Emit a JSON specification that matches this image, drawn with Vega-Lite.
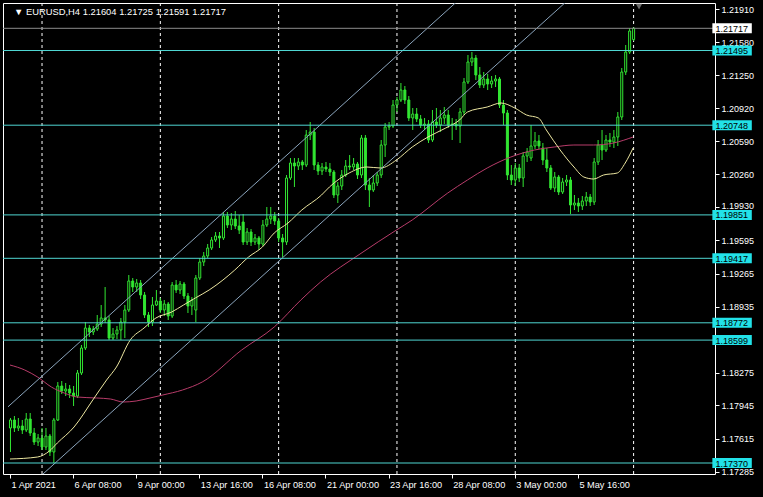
{
  "$schema": "https://vega.github.io/schema/vega-lite/v6.json",
  "width": 712,
  "height": 471,
  "autosize": {"type": "none"},
  "padding": {"left": 3, "top": 3, "right": 48, "bottom": 23},
  "background": "#000000",
  "config": {
    "view": {"stroke": "#ffffff", "strokeWidth": 1},
    "axis": {"labelFont": "Liberation Sans", "labelFontSize": 9, "labelColor": "#ffffff", "tickColor": "#ffffff", "domain": false, "grid": false, "zindex": 0},
    "axisX": {"orient": "bottom", "labelAlign": "left", "labelBaseline": "top", "labelPadding": 2, "labelOffset": 1, "tickSize": 4, "labelOverlap": false, "labelFlush": false, "labelFontSize": 9.2},
    "axisY": {"orient": "right", "tickSize": 4, "labelPadding": 2, "labelOverlap": false, "labelFlush": false, "labelBaseline": "middle", "labelAlign": "left",
      "labelOffset": {"condition": {"test": "abs(datum.value - 1.1993) < 0.00001", "value": -1.5}, "value": 0}},
    "text": {"font": "Liberation Sans"}
  },
  "datasets": {
    "grid": [{"i": 8}, {"i": 38}, {"i": 68}, {"i": 98}, {"i": 128}, {"i": 158}],
    "levels": [{"level": 1.21495}, {"level": 1.20748}, {"level": 1.19851}, {"level": 1.19417}, {"level": 1.18772}, {"level": 1.18599}, {"level": 1.1737}],
    "bid": [{"level": 1.21717}],
    "channel": [
      {"ch": "upper", "i": -0.5, "p": 1.17932}, {"ch": "upper", "i": 177.5, "p": 1.24269},
      {"ch": "lower", "i": -0.5, "p": 1.16944}, {"ch": "lower", "i": 177.5, "p": 1.23281}
    ],
    "maFast": [
      {"i": 0, "p": 1.1741}, {"i": 7, "p": 1.1743}, {"i": 10, "p": 1.1749}, {"i": 12, "p": 1.1757}, {"i": 16.25, "p": 1.1773},
      {"i": 21, "p": 1.18}, {"i": 24.5, "p": 1.182}, {"i": 27, "p": 1.1833}, {"i": 30.5, "p": 1.186}, {"i": 34, "p": 1.1872},
      {"i": 37, "p": 1.1882}, {"i": 41, "p": 1.1888}, {"i": 44, "p": 1.1895}, {"i": 47, "p": 1.1902}, {"i": 50.5, "p": 1.191},
      {"i": 54, "p": 1.192}, {"i": 57, "p": 1.193}, {"i": 60.5, "p": 1.1943}, {"i": 64, "p": 1.1953}, {"i": 67, "p": 1.1967},
      {"i": 70.5, "p": 1.1977}, {"i": 74, "p": 1.199}, {"i": 79, "p": 1.2005}, {"i": 81, "p": 1.2013}, {"i": 86, "p": 1.2027},
      {"i": 90.5, "p": 1.2033}, {"i": 94, "p": 1.2032}, {"i": 98, "p": 1.204}, {"i": 102, "p": 1.2053}, {"i": 106, "p": 1.2063},
      {"i": 110.5, "p": 1.2072}, {"i": 114, "p": 1.208}, {"i": 116, "p": 1.2088}, {"i": 121, "p": 1.2093}, {"i": 124.5, "p": 1.2097},
      {"i": 128, "p": 1.2092}, {"i": 131, "p": 1.2085}, {"i": 134, "p": 1.2082}, {"i": 136, "p": 1.207}, {"i": 139.5, "p": 1.205},
      {"i": 143, "p": 1.2033}, {"i": 145.5, "p": 1.2023}, {"i": 148, "p": 1.2021}, {"i": 150.5, "p": 1.2025}, {"i": 154, "p": 1.2027},
      {"i": 156, "p": 1.2037}, {"i": 158, "p": 1.2052}
    ],
    "maSlow": [
      {"i": 0, "p": 1.1835}, {"i": 3.75, "p": 1.183}, {"i": 7, "p": 1.1823}, {"i": 10.5, "p": 1.1813}, {"i": 13.75, "p": 1.1807},
      {"i": 17, "p": 1.1803}, {"i": 22, "p": 1.1802}, {"i": 25.5, "p": 1.1801}, {"i": 28.75, "p": 1.1798}, {"i": 32, "p": 1.1799},
      {"i": 35.5, "p": 1.1802}, {"i": 38.75, "p": 1.1805}, {"i": 43.75, "p": 1.181}, {"i": 48.75, "p": 1.1818}, {"i": 58.75, "p": 1.185},
      {"i": 67, "p": 1.1873}, {"i": 73.75, "p": 1.19}, {"i": 78.75, "p": 1.1918}, {"i": 88.75, "p": 1.1946}, {"i": 98, "p": 1.197},
      {"i": 102, "p": 1.198}, {"i": 111, "p": 1.2007}, {"i": 116, "p": 1.202}, {"i": 121, "p": 1.2032}, {"i": 127, "p": 1.2043},
      {"i": 133, "p": 1.205}, {"i": 138, "p": 1.2053}, {"i": 143, "p": 1.2055}, {"i": 148, "p": 1.2055}, {"i": 153, "p": 1.2057},
      {"i": 158, "p": 1.2063}
    ],
    "candles": [
      {"i":0,"o":1.1772,"h":1.1782,"l":1.1748,"c":1.1780},
      {"i":1,"o":1.1780,"h":1.1784,"l":1.1768,"c":1.1772},
      {"i":2,"o":1.1772,"h":1.1782,"l":1.1769,"c":1.1774},
      {"i":3,"o":1.1774,"h":1.1780,"l":1.1766,"c":1.1770},
      {"i":4,"o":1.1770,"h":1.1787,"l":1.1768,"c":1.1781},
      {"i":5,"o":1.1781,"h":1.1787,"l":1.1764,"c":1.1767},
      {"i":6,"o":1.1767,"h":1.1772,"l":1.1755,"c":1.1758},
      {"i":7,"o":1.1758,"h":1.1766,"l":1.1754,"c":1.1762},
      {"i":8,"o":1.1762,"h":1.1772,"l":1.1750,"c":1.1753},
      {"i":9,"o":1.1753,"h":1.1772,"l":1.1750,"c":1.1764},
      {"i":10,"o":1.1764,"h":1.1766,"l":1.1744,"c":1.1748},
      {"i":11,"o":1.1748,"h":1.1782,"l":1.1737,"c":1.1780},
      {"i":12,"o":1.1780,"h":1.1818,"l":1.1779,"c":1.1814},
      {"i":13,"o":1.1814,"h":1.1819,"l":1.1806,"c":1.1809},
      {"i":14,"o":1.1809,"h":1.1817,"l":1.1804,"c":1.1811},
      {"i":15,"o":1.1811,"h":1.1815,"l":1.1802,"c":1.1807},
      {"i":16,"o":1.1807,"h":1.1814,"l":1.1794,"c":1.1804},
      {"i":17,"o":1.1804,"h":1.1830,"l":1.1802,"c":1.1827},
      {"i":18,"o":1.1827,"h":1.1855,"l":1.1825,"c":1.1852},
      {"i":19,"o":1.1852,"h":1.1878,"l":1.1850,"c":1.1872},
      {"i":20,"o":1.1872,"h":1.1875,"l":1.1863,"c":1.1868},
      {"i":21,"o":1.1868,"h":1.1874,"l":1.1865,"c":1.1871},
      {"i":22,"o":1.1871,"h":1.1885,"l":1.1869,"c":1.1876},
      {"i":23,"o":1.1876,"h":1.1895,"l":1.1873,"c":1.1882},
      {"i":24,"o":1.1882,"h":1.1913,"l":1.1877,"c":1.1880},
      {"i":25,"o":1.1880,"h":1.1884,"l":1.1860,"c":1.1862},
      {"i":26,"o":1.1862,"h":1.1872,"l":1.1860,"c":1.1866},
      {"i":27,"o":1.1866,"h":1.1874,"l":1.1861,"c":1.1870},
      {"i":28,"o":1.1870,"h":1.1882,"l":1.1860,"c":1.1878},
      {"i":29,"o":1.1878,"h":1.1895,"l":1.1862,"c":1.1890},
      {"i":30,"o":1.1890,"h":1.1925,"l":1.1888,"c":1.1919},
      {"i":31,"o":1.1919,"h":1.1922,"l":1.1908,"c":1.1913},
      {"i":32,"o":1.1913,"h":1.1921,"l":1.1908,"c":1.1917},
      {"i":33,"o":1.1917,"h":1.1920,"l":1.1901,"c":1.1905},
      {"i":34,"o":1.1905,"h":1.1908,"l":1.1882,"c":1.1885},
      {"i":35,"o":1.1885,"h":1.1888,"l":1.1873,"c":1.1878},
      {"i":36,"o":1.1878,"h":1.1903,"l":1.1874,"c":1.1895},
      {"i":37,"o":1.1895,"h":1.1910,"l":1.1894,"c":1.1899},
      {"i":38,"o":1.1899,"h":1.1902,"l":1.1887,"c":1.1890},
      {"i":39,"o":1.1890,"h":1.1900,"l":1.1884,"c":1.1896},
      {"i":40,"o":1.1896,"h":1.1898,"l":1.1880,"c":1.1884},
      {"i":41,"o":1.1884,"h":1.1918,"l":1.1882,"c":1.1915},
      {"i":42,"o":1.1915,"h":1.1920,"l":1.1907,"c":1.1910},
      {"i":43,"o":1.1910,"h":1.1919,"l":1.1906,"c":1.1916},
      {"i":44,"o":1.1916,"h":1.1918,"l":1.1901,"c":1.1904},
      {"i":45,"o":1.1904,"h":1.1907,"l":1.1887,"c":1.1894},
      {"i":46,"o":1.1894,"h":1.1903,"l":1.1885,"c":1.1900},
      {"i":47,"o":1.1890,"h":1.1925,"l":1.1878,"c":1.1922},
      {"i":48,"o":1.1922,"h":1.1942,"l":1.1920,"c":1.1938},
      {"i":49,"o":1.1938,"h":1.1948,"l":1.1934,"c":1.1944},
      {"i":50,"o":1.1944,"h":1.1956,"l":1.1942,"c":1.1952},
      {"i":51,"o":1.1952,"h":1.1963,"l":1.1950,"c":1.1960},
      {"i":52,"o":1.1960,"h":1.1968,"l":1.1958,"c":1.1964},
      {"i":53,"o":1.1964,"h":1.1968,"l":1.1952,"c":1.1962},
      {"i":54,"o":1.1962,"h":1.1988,"l":1.1960,"c":1.1984},
      {"i":55,"o":1.1984,"h":1.1988,"l":1.1972,"c":1.1975},
      {"i":56,"o":1.1975,"h":1.1987,"l":1.1970,"c":1.1981},
      {"i":57,"o":1.1981,"h":1.1989,"l":1.1971,"c":1.1974},
      {"i":58,"o":1.1974,"h":1.1985,"l":1.1966,"c":1.1970},
      {"i":59,"o":1.1978,"h":1.1986,"l":1.1955,"c":1.1958},
      {"i":60,"o":1.1958,"h":1.1972,"l":1.1955,"c":1.1968},
      {"i":61,"o":1.1968,"h":1.1971,"l":1.1954,"c":1.1958},
      {"i":62,"o":1.1958,"h":1.1966,"l":1.1955,"c":1.1962},
      {"i":63,"o":1.1962,"h":1.1964,"l":1.1950,"c":1.1956},
      {"i":64,"o":1.1956,"h":1.1980,"l":1.1954,"c":1.1975},
      {"i":65,"o":1.1975,"h":1.1993,"l":1.1973,"c":1.1981},
      {"i":66,"o":1.1981,"h":1.1993,"l":1.1976,"c":1.1984},
      {"i":67,"o":1.1984,"h":1.1988,"l":1.1975,"c":1.1979},
      {"i":68,"o":1.1979,"h":1.1982,"l":1.1958,"c":1.1962},
      {"i":69,"o":1.1962,"h":1.1966,"l":1.1943,"c":1.1958},
      {"i":70,"o":1.1958,"h":1.2025,"l":1.1955,"c":1.2022},
      {"i":71,"o":1.2022,"h":1.2042,"l":1.2020,"c":1.2037},
      {"i":72,"o":1.2037,"h":1.2042,"l":1.2013,"c":1.2034},
      {"i":73,"o":1.2034,"h":1.2042,"l":1.2030,"c":1.2038},
      {"i":74,"o":1.2038,"h":1.2040,"l":1.2030,"c":1.2035},
      {"i":75,"o":1.2035,"h":1.2070,"l":1.2033,"c":1.2065},
      {"i":76,"o":1.2065,"h":1.2078,"l":1.2060,"c":1.2068},
      {"i":77,"o":1.2068,"h":1.2072,"l":1.2030,"c":1.2035},
      {"i":78,"o":1.2035,"h":1.2038,"l":1.2025,"c":1.2029},
      {"i":79,"o":1.2029,"h":1.2037,"l":1.2025,"c":1.2033},
      {"i":80,"o":1.2033,"h":1.2038,"l":1.2028,"c":1.2031},
      {"i":81,"o":1.2031,"h":1.2037,"l":1.2024,"c":1.2028},
      {"i":82,"o":1.2028,"h":1.2030,"l":1.2002,"c":1.2005},
      {"i":83,"o":1.2005,"h":1.2018,"l":1.1997,"c":1.2014},
      {"i":84,"o":1.2014,"h":1.2030,"l":1.2010,"c":1.2025},
      {"i":85,"o":1.2025,"h":1.2040,"l":1.2023,"c":1.2034},
      {"i":86,"o":1.2034,"h":1.2045,"l":1.2030,"c":1.2033},
      {"i":87,"o":1.2033,"h":1.2042,"l":1.2030,"c":1.2036},
      {"i":88,"o":1.2036,"h":1.2038,"l":1.2021,"c":1.2025},
      {"i":89,"o":1.2025,"h":1.2065,"l":1.2022,"c":1.2062},
      {"i":90,"o":1.2062,"h":1.2065,"l":1.2010,"c":1.2015},
      {"i":91,"o":1.2015,"h":1.2022,"l":1.1993,"c":1.2010},
      {"i":92,"o":1.2010,"h":1.2025,"l":1.2008,"c":1.2017},
      {"i":93,"o":1.2017,"h":1.2028,"l":1.2014,"c":1.2025},
      {"i":94,"o":1.2025,"h":1.2060,"l":1.2022,"c":1.2055},
      {"i":95,"o":1.2055,"h":1.2077,"l":1.2043,"c":1.2073},
      {"i":96,"o":1.2073,"h":1.2078,"l":1.2070,"c":1.2074},
      {"i":97,"o":1.2074,"h":1.2100,"l":1.2072,"c":1.2095},
      {"i":98,"o":1.2095,"h":1.2103,"l":1.2088,"c":1.2100},
      {"i":99,"o":1.2100,"h":1.2117,"l":1.2098,"c":1.2110},
      {"i":100,"o":1.2110,"h":1.2114,"l":1.2096,"c":1.2100},
      {"i":101,"o":1.2100,"h":1.2104,"l":1.2079,"c":1.2082},
      {"i":102,"o":1.2082,"h":1.2092,"l":1.2070,"c":1.2086},
      {"i":103,"o":1.2086,"h":1.2092,"l":1.2078,"c":1.2081},
      {"i":104,"o":1.2081,"h":1.2085,"l":1.2072,"c":1.2075},
      {"i":105,"o":1.2075,"h":1.2082,"l":1.2070,"c":1.2076},
      {"i":106,"o":1.2076,"h":1.2080,"l":1.2057,"c":1.2060},
      {"i":107,"o":1.2060,"h":1.2090,"l":1.2058,"c":1.2078},
      {"i":108,"o":1.2078,"h":1.2092,"l":1.2072,"c":1.2075},
      {"i":109,"o":1.2075,"h":1.2090,"l":1.2068,"c":1.2082},
      {"i":110,"o":1.2082,"h":1.2093,"l":1.2076,"c":1.2085},
      {"i":111,"o":1.2085,"h":1.2090,"l":1.2072,"c":1.2075},
      {"i":112,"o":1.2075,"h":1.2082,"l":1.2060,"c":1.2076},
      {"i":113,"o":1.2076,"h":1.2081,"l":1.2070,"c":1.2074},
      {"i":114,"o":1.2074,"h":1.2092,"l":1.2057,"c":1.2088},
      {"i":115,"o":1.2088,"h":1.2122,"l":1.2085,"c":1.2118},
      {"i":116,"o":1.2118,"h":1.2145,"l":1.2116,"c":1.2138},
      {"i":117,"o":1.2138,"h":1.2148,"l":1.2134,"c":1.2142},
      {"i":118,"o":1.2142,"h":1.2145,"l":1.2120,"c":1.2125},
      {"i":119,"o":1.2125,"h":1.2133,"l":1.2112,"c":1.2115},
      {"i":120,"o":1.2115,"h":1.2128,"l":1.2112,"c":1.2121},
      {"i":121,"o":1.2121,"h":1.2126,"l":1.2110,"c":1.2116},
      {"i":122,"o":1.2116,"h":1.2124,"l":1.2112,"c":1.2119},
      {"i":123,"o":1.2119,"h":1.2125,"l":1.2113,"c":1.2121},
      {"i":124,"o":1.2121,"h":1.2123,"l":1.2092,"c":1.2095},
      {"i":125,"o":1.2095,"h":1.2100,"l":1.2075,"c":1.2087},
      {"i":126,"o":1.2087,"h":1.2090,"l":1.2020,"c":1.2025},
      {"i":127,"o":1.2025,"h":1.2035,"l":1.2015,"c":1.2020},
      {"i":128,"o":1.2020,"h":1.2037,"l":1.2014,"c":1.2032},
      {"i":129,"o":1.2032,"h":1.2036,"l":1.2018,"c":1.2022},
      {"i":130,"o":1.2022,"h":1.2048,"l":1.2013,"c":1.2044},
      {"i":131,"o":1.2044,"h":1.2052,"l":1.2038,"c":1.2048},
      {"i":132,"o":1.2042,"h":1.2075,"l":1.2039,"c":1.2054},
      {"i":133,"o":1.2054,"h":1.2068,"l":1.2051,"c":1.2059},
      {"i":134,"o":1.2059,"h":1.2065,"l":1.2051,"c":1.2054},
      {"i":135,"o":1.2052,"h":1.2057,"l":1.2035,"c":1.2040},
      {"i":136,"o":1.2040,"h":1.2052,"l":1.2028,"c":1.2032},
      {"i":137,"o":1.2032,"h":1.2035,"l":1.2010,"c":1.2012},
      {"i":138,"o":1.2012,"h":1.2028,"l":1.2008,"c":1.2023},
      {"i":139,"o":1.2023,"h":1.2025,"l":1.2005,"c":1.2008},
      {"i":140,"o":1.2008,"h":1.2022,"l":1.2006,"c":1.2018},
      {"i":141,"o":1.2018,"h":1.2025,"l":1.2014,"c":1.2020},
      {"i":142,"o":1.2020,"h":1.2023,"l":1.1986,"c":1.1995},
      {"i":143,"o":1.1995,"h":1.2005,"l":1.1990,"c":1.1997},
      {"i":144,"o":1.1997,"h":1.2002,"l":1.1988,"c":1.1994},
      {"i":145,"o":1.1994,"h":1.2004,"l":1.1990,"c":1.1999},
      {"i":146,"o":1.1999,"h":1.2008,"l":1.1994,"c":1.2003},
      {"i":147,"o":1.2003,"h":1.2006,"l":1.1994,"c":1.1998},
      {"i":148,"o":1.1998,"h":1.2042,"l":1.1995,"c":1.2038},
      {"i":149,"o":1.2038,"h":1.2060,"l":1.2035,"c":1.2055},
      {"i":150,"o":1.2055,"h":1.2070,"l":1.2040,"c":1.2050},
      {"i":151,"o":1.2050,"h":1.2065,"l":1.2048,"c":1.2060},
      {"i":152,"o":1.2060,"h":1.2067,"l":1.2053,"c":1.2058},
      {"i":153,"o":1.2058,"h":1.2070,"l":1.2052,"c":1.2063},
      {"i":154,"o":1.2063,"h":1.2088,"l":1.2054,"c":1.2083},
      {"i":155,"o":1.2083,"h":1.2132,"l":1.2080,"c":1.2128},
      {"i":156,"o":1.2128,"h":1.2155,"l":1.2125,"c":1.2148},
      {"i":157,"o":1.2148,"h":1.2172,"l":1.2146,"c":1.2169},
      {"i":158,"o":1.21604,"h":1.21725,"l":1.21591,"c":1.21717}
    ]
  },
  "layer": [
    {
      "data": {"name": "grid"},
      "mark": {"type": "rule", "color": "#ffffff", "strokeWidth": 1, "strokeDash": [3, 3], "xOffset": 0.5},
      "encoding": {
        "x": {
          "field": "i", "type": "quantitative",
          "scale": {"domain": [-0.5, 177.5], "nice": false, "zero": false},
          "axis": {"title": null, "values": [0, 16, 32, 48, 64, 80, 96, 112, 128, 144], "labelExpr": "['1 Apr 2021','6 Apr 08:00','9 Apr 00:00','13 Apr 16:00','16 Apr 08:00','21 Apr 00:00','23 Apr 16:00','28 Apr 08:00','3 May 00:00','5 May 16:00'][round(datum.value/16)]"}
        }
      }
    },
    {
      "data": {"name": "candles"},
      "mark": {"type": "rule", "color": "#32e632", "strokeWidth": 1, "xOffset": 0.5},
      "encoding": {
        "x": {"field": "i", "type": "quantitative", "scale": {"domain": [-0.5, 177.5], "nice": false, "zero": false},
          "axis": {"title": null, "values": [0, 16, 32, 48, 64, 80, 96, 112, 128, 144], "labelExpr": "['1 Apr 2021','6 Apr 08:00','9 Apr 00:00','13 Apr 16:00','16 Apr 08:00','21 Apr 00:00','23 Apr 16:00','28 Apr 08:00','3 May 00:00','5 May 16:00'][round(datum.value/16)]"}},
        "y": {
          "field": "l", "type": "quantitative",
          "scale": {"domain": [1.1726, 1.2197], "nice": false, "zero": false},
          "axis": {"title": null, "values": [1.17285, 1.17615, 1.17945, 1.18275, 1.18935, 1.19265, 1.19595, 1.1993, 1.2026, 1.2059, 1.2092, 1.2125, 1.2158, 1.2191], "format": ".5f"}
        },
        "y2": {"field": "h"}
      }
    },
    {
      "data": {"name": "candles"},
      "mark": {"type": "bar", "width": 2, "stroke": "#32e632", "strokeWidth": 1, "xOffset": 0.5},
      "encoding": {
        "x": {"field": "i", "type": "quantitative", "scale": {"domain": [-0.5, 177.5], "nice": false, "zero": false},
          "axis": {"title": null, "values": [0, 16, 32, 48, 64, 80, 96, 112, 128, 144], "labelExpr": "['1 Apr 2021','6 Apr 08:00','9 Apr 00:00','13 Apr 16:00','16 Apr 08:00','21 Apr 00:00','23 Apr 16:00','28 Apr 08:00','3 May 00:00','5 May 16:00'][round(datum.value/16)]"}},
        "y": {"field": "o", "type": "quantitative", "scale": {"domain": [1.1726, 1.2197], "nice": false, "zero": false},
          "axis": {"title": null, "values": [1.17285, 1.17615, 1.17945, 1.18275, 1.18935, 1.19265, 1.19595, 1.1993, 1.2026, 1.2059, 1.2092, 1.2125, 1.2158, 1.2191], "format": ".5f"}},
        "y2": {"field": "c"},
        "fill": {"condition": {"test": "datum.c > datum.o", "value": "#000000"}, "value": "#32e632"}
      }
    },
    {
      "data": {"name": "maSlow"},
      "mark": {"type": "line", "color": "#b83c6a", "strokeWidth": 1, "interpolate": "monotone", "clip": true},
      "encoding": {
        "x": {"field": "i", "type": "quantitative", "scale": {"domain": [-0.5, 177.5], "nice": false, "zero": false},
          "axis": {"title": null, "values": [0, 16, 32, 48, 64, 80, 96, 112, 128, 144], "labelExpr": "['1 Apr 2021','6 Apr 08:00','9 Apr 00:00','13 Apr 16:00','16 Apr 08:00','21 Apr 00:00','23 Apr 16:00','28 Apr 08:00','3 May 00:00','5 May 16:00'][round(datum.value/16)]"}},
        "y": {"field": "p", "type": "quantitative", "scale": {"domain": [1.1726, 1.2197], "nice": false, "zero": false},
          "axis": {"title": null, "values": [1.17285, 1.17615, 1.17945, 1.18275, 1.18935, 1.19265, 1.19595, 1.1993, 1.2026, 1.2059, 1.2092, 1.2125, 1.2158, 1.2191], "format": ".5f"}}
      }
    },
    {
      "data": {"name": "maFast"},
      "mark": {"type": "line", "color": "#ece6a0", "strokeWidth": 1, "interpolate": "monotone", "clip": true},
      "encoding": {
        "x": {"field": "i", "type": "quantitative", "scale": {"domain": [-0.5, 177.5], "nice": false, "zero": false},
          "axis": {"title": null, "values": [0, 16, 32, 48, 64, 80, 96, 112, 128, 144], "labelExpr": "['1 Apr 2021','6 Apr 08:00','9 Apr 00:00','13 Apr 16:00','16 Apr 08:00','21 Apr 00:00','23 Apr 16:00','28 Apr 08:00','3 May 00:00','5 May 16:00'][round(datum.value/16)]"}},
        "y": {"field": "p", "type": "quantitative", "scale": {"domain": [1.1726, 1.2197], "nice": false, "zero": false},
          "axis": {"title": null, "values": [1.17285, 1.17615, 1.17945, 1.18275, 1.18935, 1.19265, 1.19595, 1.1993, 1.2026, 1.2059, 1.2092, 1.2125, 1.2158, 1.2191], "format": ".5f"}}
      }
    },
    {
      "data": {"name": "channel"},
      "mark": {"type": "line", "color": "#8aa4bc", "strokeWidth": 1, "clip": true},
      "encoding": {
        "x": {"field": "i", "type": "quantitative", "scale": {"domain": [-0.5, 177.5], "nice": false, "zero": false},
          "axis": {"title": null, "values": [0, 16, 32, 48, 64, 80, 96, 112, 128, 144], "labelExpr": "['1 Apr 2021','6 Apr 08:00','9 Apr 00:00','13 Apr 16:00','16 Apr 08:00','21 Apr 00:00','23 Apr 16:00','28 Apr 08:00','3 May 00:00','5 May 16:00'][round(datum.value/16)]"}},
        "y": {"field": "p", "type": "quantitative", "scale": {"domain": [1.1726, 1.2197], "nice": false, "zero": false},
          "axis": {"title": null, "values": [1.17285, 1.17615, 1.17945, 1.18275, 1.18935, 1.19265, 1.19595, 1.1993, 1.2026, 1.2059, 1.2092, 1.2125, 1.2158, 1.2191], "format": ".5f"}},
        "detail": {"field": "ch"}
      }
    },
    {
      "data": {"name": "levels"},
      "mark": {"type": "rule", "color": "#4fd6d2", "strokeWidth": 1},
      "encoding": {
        "y": {"field": "level", "type": "quantitative", "scale": {"domain": [1.1726, 1.2197], "nice": false, "zero": false},
          "axis": {"title": null, "values": [1.17285, 1.17615, 1.17945, 1.18275, 1.18935, 1.19265, 1.19595, 1.1993, 1.2026, 1.2059, 1.2092, 1.2125, 1.2158, 1.2191], "format": ".5f"}}
      }
    },
    {
      "data": {"name": "bid"},
      "mark": {"type": "rule", "color": "#8c8c8c", "strokeWidth": 1},
      "encoding": {
        "y": {"field": "level", "type": "quantitative", "scale": {"domain": [1.1726, 1.2197], "nice": false, "zero": false},
          "axis": {"title": null, "values": [1.17285, 1.17615, 1.17945, 1.18275, 1.18935, 1.19265, 1.19595, 1.1993, 1.2026, 1.2059, 1.2092, 1.2125, 1.2158, 1.2191], "format": ".5f"}}
      }
    },
    {
      "data": {"name": "levels"},
      "mark": {"type": "rect", "fill": "#22e2e8", "yOffset": -5, "y2Offset": 5},
      "encoding": {
        "x": {"datum": 178.1, "type": "quantitative", "scale": {"domain": [-0.5, 177.5], "nice": false, "zero": false},
          "axis": {"title": null, "values": [0, 16, 32, 48, 64, 80, 96, 112, 128, 144], "labelExpr": "['1 Apr 2021','6 Apr 08:00','9 Apr 00:00','13 Apr 16:00','16 Apr 08:00','21 Apr 00:00','23 Apr 16:00','28 Apr 08:00','3 May 00:00','5 May 16:00'][round(datum.value/16)]"}},
        "x2": {"datum": 188.1},
        "y": {"field": "level", "type": "quantitative", "scale": {"domain": [1.1726, 1.2197], "nice": false, "zero": false},
          "axis": {"title": null, "values": [1.17285, 1.17615, 1.17945, 1.18275, 1.18935, 1.19265, 1.19595, 1.1993, 1.2026, 1.2059, 1.2092, 1.2125, 1.2158, 1.2191], "format": ".5f"}},
        "y2": {"field": "level"}
      }
    },
    {
      "data": {"name": "levels"},
      "mark": {"type": "text", "align": "left", "baseline": "middle", "fill": "#000000", "fontSize": 9, "dy": 0.5},
      "encoding": {
        "x": {"datum": 178.9, "type": "quantitative", "scale": {"domain": [-0.5, 177.5], "nice": false, "zero": false},
          "axis": {"title": null, "values": [0, 16, 32, 48, 64, 80, 96, 112, 128, 144], "labelExpr": "['1 Apr 2021','6 Apr 08:00','9 Apr 00:00','13 Apr 16:00','16 Apr 08:00','21 Apr 00:00','23 Apr 16:00','28 Apr 08:00','3 May 00:00','5 May 16:00'][round(datum.value/16)]"}},
        "y": {"field": "level", "type": "quantitative", "scale": {"domain": [1.1726, 1.2197], "nice": false, "zero": false},
          "axis": {"title": null, "values": [1.17285, 1.17615, 1.17945, 1.18275, 1.18935, 1.19265, 1.19595, 1.1993, 1.2026, 1.2059, 1.2092, 1.2125, 1.2158, 1.2191], "format": ".5f"}},
        "text": {"field": "level", "type": "quantitative", "format": ".5f"}
      }
    },
    {
      "data": {"name": "bid"},
      "mark": {"type": "rect", "fill": "#ffffff", "yOffset": -5, "y2Offset": 5},
      "encoding": {
        "x": {"datum": 178.1, "type": "quantitative", "scale": {"domain": [-0.5, 177.5], "nice": false, "zero": false},
          "axis": {"title": null, "values": [0, 16, 32, 48, 64, 80, 96, 112, 128, 144], "labelExpr": "['1 Apr 2021','6 Apr 08:00','9 Apr 00:00','13 Apr 16:00','16 Apr 08:00','21 Apr 00:00','23 Apr 16:00','28 Apr 08:00','3 May 00:00','5 May 16:00'][round(datum.value/16)]"}},
        "x2": {"datum": 188.1},
        "y": {"field": "level", "type": "quantitative", "scale": {"domain": [1.1726, 1.2197], "nice": false, "zero": false},
          "axis": {"title": null, "values": [1.17285, 1.17615, 1.17945, 1.18275, 1.18935, 1.19265, 1.19595, 1.1993, 1.2026, 1.2059, 1.2092, 1.2125, 1.2158, 1.2191], "format": ".5f"}},
        "y2": {"field": "level"}
      }
    },
    {
      "data": {"name": "bid"},
      "mark": {"type": "text", "align": "left", "baseline": "middle", "fill": "#000000", "fontSize": 9, "dy": 0.5},
      "encoding": {
        "x": {"datum": 178.9, "type": "quantitative", "scale": {"domain": [-0.5, 177.5], "nice": false, "zero": false},
          "axis": {"title": null, "values": [0, 16, 32, 48, 64, 80, 96, 112, 128, 144], "labelExpr": "['1 Apr 2021','6 Apr 08:00','9 Apr 00:00','13 Apr 16:00','16 Apr 08:00','21 Apr 00:00','23 Apr 16:00','28 Apr 08:00','3 May 00:00','5 May 16:00'][round(datum.value/16)]"}},
        "y": {"field": "level", "type": "quantitative", "scale": {"domain": [1.1726, 1.2197], "nice": false, "zero": false},
          "axis": {"title": null, "values": [1.17285, 1.17615, 1.17945, 1.18275, 1.18935, 1.19265, 1.19595, 1.1993, 1.2026, 1.2059, 1.2092, 1.2125, 1.2158, 1.2191], "format": ".5f"}},
        "text": {"field": "level", "type": "quantitative", "format": ".5f"}
      }
    },
    {
      "data": {"values": [{"t": "▼ EURUSD,H4  1.21604 1.21725 1.21591 1.21717"}]},
      "mark": {"type": "text", "align": "left", "baseline": "top", "fill": "#ffffff", "fontSize": 9.4, "dx": 6, "dy": 5},
      "encoding": {
        "x": {"datum": -0.5, "type": "quantitative", "scale": {"domain": [-0.5, 177.5], "nice": false, "zero": false},
          "axis": {"title": null, "values": [0, 16, 32, 48, 64, 80, 96, 112, 128, 144], "labelExpr": "['1 Apr 2021','6 Apr 08:00','9 Apr 00:00','13 Apr 16:00','16 Apr 08:00','21 Apr 00:00','23 Apr 16:00','28 Apr 08:00','3 May 00:00','5 May 16:00'][round(datum.value/16)]"}},
        "y": {"datum": 1.2197, "type": "quantitative", "scale": {"domain": [1.1726, 1.2197], "nice": false, "zero": false},
          "axis": {"title": null, "values": [1.17285, 1.17615, 1.17945, 1.18275, 1.18935, 1.19265, 1.19595, 1.1993, 1.2026, 1.2059, 1.2092, 1.2125, 1.2158, 1.2191], "format": ".5f"}},
        "text": {"field": "t"}
      }
    },
    {
      "data": {"values": [{"m": "shift"}]},
      "mark": {"type": "point", "shape": "triangle-down", "filled": true, "fill": "#9a9a9a", "stroke": null, "size": 45},
      "encoding": {
        "x": {"datum": 159.5, "type": "quantitative", "scale": {"domain": [-0.5, 177.5], "nice": false, "zero": false},
          "axis": {"title": null, "values": [0, 16, 32, 48, 64, 80, 96, 112, 128, 144], "labelExpr": "['1 Apr 2021','6 Apr 08:00','9 Apr 00:00','13 Apr 16:00','16 Apr 08:00','21 Apr 00:00','23 Apr 16:00','28 Apr 08:00','3 May 00:00','5 May 16:00'][round(datum.value/16)]"}},
        "y": {"datum": 1.21935, "type": "quantitative", "scale": {"domain": [1.1726, 1.2197], "nice": false, "zero": false},
          "axis": {"title": null, "values": [1.17285, 1.17615, 1.17945, 1.18275, 1.18935, 1.19265, 1.19595, 1.1993, 1.2026, 1.2059, 1.2092, 1.2125, 1.2158, 1.2191], "format": ".5f"}}
      }
    }
  ]
}
